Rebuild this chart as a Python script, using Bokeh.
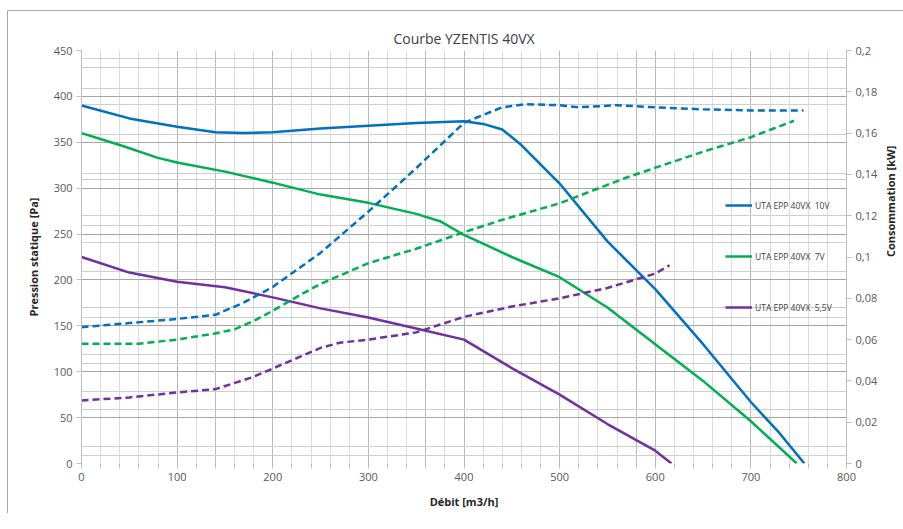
import math
from bokeh.plotting import figure
from bokeh.models import (Range1d, LinearAxis, SingleIntervalTicker, FixedTicker, Grid,
                          Legend, LegendItem, CustomJSTickFormatter)
from bokeh.embed import file_html
from bokeh.resources import INLINE

# ---------------- data ----------------
title_text = "Courbe YZENTIS 40VX"
x_label = "Débit [m3/h]"
y_label = "Pression statique [Pa]"
y2_label = "Consommation [kW]"

# static pressure curves (Pa) vs flow (m3/h)
p10_x = [0, 50, 100, 140, 170, 200, 250, 300, 350, 400, 420, 440, 460, 480, 500, 550, 600, 650, 700, 730, 756]
p10_y = [390, 376, 367, 361, 360, 361, 365, 368, 371, 373, 370, 364, 347, 326, 305, 242, 190, 130, 67, 33, 0]

p7_x = [0, 40, 80, 100, 150, 200, 250, 300, 350, 375, 400, 425, 450, 500, 550, 600, 650, 700, 748]
p7_y = [360, 347, 333, 328, 318, 306, 293, 284, 272, 264, 249, 237, 225, 203, 170, 130, 90, 46, 0]

p55_x = [0, 50, 100, 150, 200, 250, 300, 350, 400, 450, 500, 550, 600, 617]
p55_y = [225, 208, 198, 192, 181, 169, 159, 147, 135, 104, 75, 43, 14, 0]

# power consumption curves (kW) vs flow (m3/h)
c10_x = [0, 50, 100, 140, 170, 200, 250, 300, 350, 400, 440, 465, 500, 520, 560, 600, 650, 700, 755]
c10_y = [0.066, 0.068, 0.070, 0.072, 0.078, 0.0855, 0.102, 0.122, 0.143, 0.165, 0.1725, 0.174,
         0.1735, 0.1725, 0.1735, 0.1725, 0.1715, 0.171, 0.171]

c7_x = [0, 60, 100, 140, 160, 180, 200, 230, 250, 300, 350, 400, 440, 500, 570, 650, 700, 745]
c7_y = [0.058, 0.058, 0.060, 0.063, 0.065, 0.069, 0.074, 0.082, 0.087, 0.097, 0.104, 0.112, 0.118,
        0.126, 0.1385, 0.151, 0.158, 0.166]

c55_x = [0, 50, 100, 140, 180, 200, 230, 250, 270, 300, 350, 400, 450, 500, 550, 600, 615]
c55_y = [0.0305, 0.032, 0.0344, 0.036, 0.042, 0.046, 0.052, 0.056, 0.0585, 0.060, 0.0635, 0.071,
         0.076, 0.080, 0.085, 0.092, 0.096]

series_names = ["UTA EPP 40VX  10V", "UTA EPP 40VX  7V", "UTA EPP 40VX  5,5V"]
colors = ["#0070C0", "#00B050", "#7030A0"]

FONT = "Open Sans"
TXT = "#595959"

p = figure(frame_width=765, frame_height=413, output_backend="svg", toolbar_location=None,
           x_range=Range1d(0, 800), y_range=Range1d(0, 450),
           min_border_left=73, min_border_right=40, min_border_top=39, min_border_bottom=50)
p.extra_y_ranges = {"kw": Range1d(0, 0.2)}

p.title.text = title_text
p.title.align = "center"
p.title.vertical_align = "middle"
p.title.text_font = FONT
p.title.text_font_size = "14px"
p.title.text_font_style = "normal"
p.title.text_color = "#404040"
p.title.offset = 0
p.title.standoff = 4

p.outline_line_color = None
p.styles = {"margin-left": "7px", "margin-top": "10px",
            "border-left": "1px solid #a8a8a8", "border-top": "1px solid #a8a8a8"}

# x axis
xa = p.xaxis[0]
xa.ticker = SingleIntervalTicker(interval=100, num_minor_ticks=5)
xa.axis_label = x_label
# y axis
ya = p.yaxis[0]
ya.ticker = SingleIntervalTicker(interval=50, num_minor_ticks=0)
ya.axis_label = y_label
# right axis
ra = LinearAxis(y_range_name="kw", axis_label=y2_label,
                ticker=SingleIntervalTicker(interval=0.02, num_minor_ticks=0))
ra.formatter = CustomJSTickFormatter(code="""
    var s = tick.toFixed(2);
    s = s.replace(/0+$/, '').replace(/\\.$/, '');
    return s.replace('.', ',');
""")
p.add_layout(ra, "right")

for ax in [xa, ya, ra]:
    ax.major_label_text_font = FONT
    ax.major_label_text_font_size = "11px"
    ax.major_label_text_color = TXT
    ax.axis_label_text_font = FONT
    ax.axis_label_text_font_size = "11px"
    ax.axis_label_text_font_style = "bold"
    ax.axis_label_text_color = "#262626"
    ax.axis_line_color = "#bfbfbf"
    ax.major_tick_line_color = "#bfbfbf"
    ax.minor_tick_line_color = "#bfbfbf"
    ax.major_tick_in = 0
    ax.major_tick_out = 5
    ax.minor_tick_in = 0
    ax.minor_tick_out = 5
    ax.major_label_standoff = 4
xa.axis_label_standoff = 10
ya.axis_label_standoff = 10
ra.axis_label_standoff = 10
ra.major_label_standoff = 4
ra.axis_label_orientation = math.pi / 2
xa.axis_line_color = None
ya.minor_tick_line_color = None
ra.minor_tick_line_color = None

# grids
p.xgrid.grid_line_color = "#b8b8b8"
p.xgrid.minor_grid_line_color = "#dcdcdc"
p.ygrid.grid_line_color = "#a6a6a6"
extra_v = Grid(dimension=0, ticker=FixedTicker(ticks=[140, 360, 580]), grid_line_color="#bdbdbd")
extra_h1 = Grid(dimension=1, ticker=FixedTicker(ticks=[9, 59, 109, 159, 209, 259, 309, 359, 409]),
                grid_line_color="#cfcfcf")
extra_h2 = Grid(dimension=1, ticker=FixedTicker(ticks=[18, 78, 119, 170, 241, 270, 316, 391, 431, 441]),
                grid_line_color="#cfcfcf")
for g in (extra_v, extra_h1, extra_h2):
    p.add_layout(g, "center")

LW = 2.5
r10 = p.line(p10_x, p10_y, color=colors[0], line_width=LW)
r7 = p.line(p7_x, p7_y, color=colors[1], line_width=LW)
r55 = p.line(p55_x, p55_y, color=colors[2], line_width=LW)
DASH = "7 4"
p.line(c10_x, c10_y, color=colors[0], line_width=LW, line_dash=DASH, y_range_name="kw")
p.line(c7_x, c7_y, color=colors[1], line_width=LW, line_dash=DASH, y_range_name="kw")
p.line(c55_x, c55_y, color=colors[2], line_width=LW, line_dash=DASH, y_range_name="kw")

legend = Legend(items=[LegendItem(label=series_names[0], renderers=[r10]),
                       LegendItem(label=series_names[1], renderers=[r7]),
                       LegendItem(label=series_names[2], renderers=[r55])],
                location=(644, 146), orientation="vertical",
                background_fill_alpha=0, border_line_color=None,
                padding=0, margin=0, spacing=31, glyph_width=27, glyph_height=20,
                label_height=20, label_standoff=3,
                label_text_font=FONT, label_text_font_size="8.5px", label_text_color="#404040")
p.add_layout(legend, "center")

open("out.html", "w").write(file_html(p, INLINE))
